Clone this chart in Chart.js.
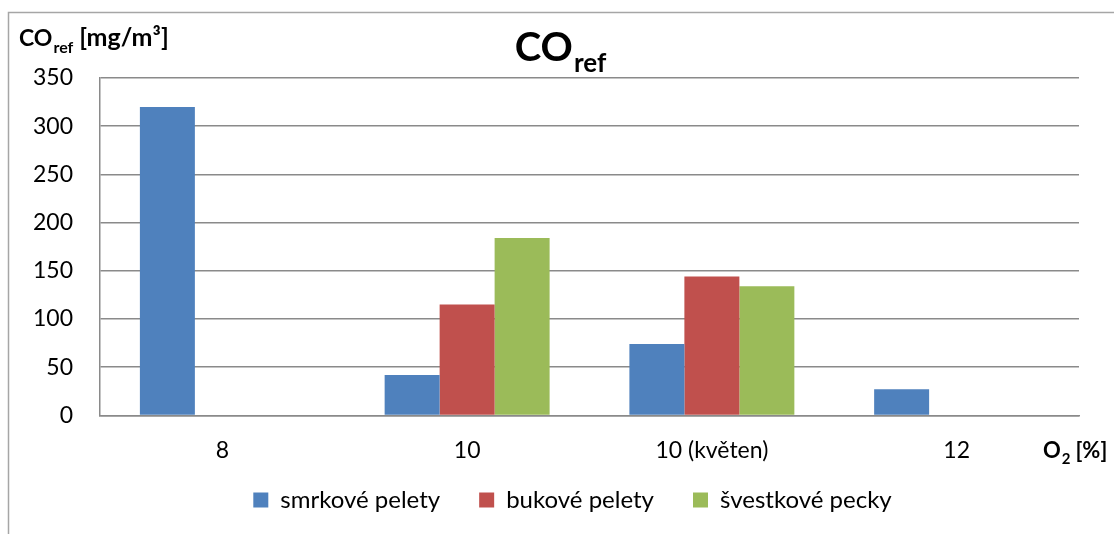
<!DOCTYPE html>
<html>
<head>
<meta charset="utf-8">
<script src="https://cdn.jsdelivr.net/npm/chart.js@4/dist/chart.umd.min.js"></script>
<style>
  html, body { margin: 0; padding: 0; background: #fff; }
  #wrap { width: 1114px; height: 534px; position: relative; }
</style>
</head>
<body>
<div id="wrap"><canvas id="c" width="1114" height="534"></canvas></div>
<script>
const categories = ['8', '10', '10 (květen)', '12'];
const seriesNames = ['smrkové pelety', 'bukové pelety', 'švestkové pecky'];
const smrkove = [320, 42, 74, 27];
const bukove = [null, 115, 144, null];
const svestkove = [null, 184, 134, null];
const yMin = 0, yMax = 350, yStep = 50;
const colors = ['#4F81BD', '#C0504D', '#9BBB59'];

const FONT = 'Lato, "Open Sans", sans-serif';
const GRID = '#8a8a8a';

// legend placement (row centre, centre of the item group)
const LEGEND_ROW_Y = 500;
const LEGEND_CENTER_X = 572.5;

const legendPlacePlugin = {
  id: 'legendPlace',
  afterLayout(chart) {
    const L = chart.legend;
    if (!L) return;
    const pad = L.options.labels.padding;
    const fs = L.options.labels.font.size;
    const h = L.height;
    const top = LEGEND_ROW_Y - pad - fs / 2;
    L.top = top; L.bottom = top + h;
    const dx = LEGEND_CENTER_X - (L.left + L.right) / 2;
    L.left += dx; L.right += dx;
  }
};

const decorPlugin = {
  id: 'decor',
  beforeDraw(chart) {
    const ctx = chart.ctx;
    ctx.save();
    ctx.strokeStyle = '#a6a6a6';
    ctx.lineWidth = 1.5;
    ctx.beginPath();
    ctx.moveTo(8.5, 534);
    ctx.lineTo(8.5, 12.5);
    ctx.lineTo(1114, 12.5);
    ctx.stroke();
    ctx.restore();
  },
  afterDraw(chart) {
    const ctx = chart.ctx;
    ctx.save();
    ctx.fillStyle = '#000';
    ctx.textBaseline = 'alphabetic';
    // Main title: CO_ref
    ctx.font = 'bold 40px ' + FONT;
    const wCO = ctx.measureText('CO').width;
    ctx.font = 'bold 26px ' + FONT;
    const wRef = ctx.measureText('ref').width;
    const cx = 560;
    const x0 = cx - (wCO + wRef) / 2;
    ctx.font = 'bold 40px ' + FONT;
    ctx.fillText('CO', x0, 61);
    ctx.font = 'bold 26px ' + FONT;
    ctx.fillText('ref', x0 + wCO + 1, 72);
    // Y axis title: CO_ref [mg/m³]
    let x = 19;
    ctx.font = 'bold 23px ' + FONT;
    ctx.fillText('CO', x, 46);
    x += ctx.measureText('CO').width;
    ctx.font = 'bold 16px ' + FONT;
    ctx.fillText('ref', x + 1, 53);
    x += ctx.measureText('ref').width + 7;
    ctx.font = 'bold 25px ' + FONT;
    ctx.fillText('[mg/m³]', x, 46);
    // X axis title: O2 [%]
    x = 1043;
    ctx.font = 'bold 22px ' + FONT;
    ctx.fillText('O', x, 458);
    x += ctx.measureText('O').width;
    ctx.font = 'bold 15px ' + FONT;
    ctx.fillText('2', x + 1, 464);
    x += ctx.measureText('2').width + 6;
    ctx.font = 'bold 22px ' + FONT;
    ctx.fillText('[%]', x, 458);
    ctx.restore();
  }
};

new Chart(document.getElementById('c'), {
  type: 'bar',
  data: {
    labels: categories,
    datasets: [
      { label: seriesNames[0], data: smrkove, backgroundColor: colors[0] },
      { label: seriesNames[1], data: bukove, backgroundColor: colors[1] },
      { label: seriesNames[2], data: svestkove, backgroundColor: colors[2] }
    ]
  },
  options: {
    responsive: false,
    animation: false,
    devicePixelRatio: 1,
    layout: { padding: { top: 78, left: 8, right: 35, bottom: -24 } },
    datasets: { bar: { categoryPercentage: 0.674, barPercentage: 1.0 } },
    plugins: {
      title: { display: false },
      tooltip: { enabled: false },
      legend: {
        display: true,
        position: 'bottom',
        labels: {
          boxWidth: 15,
          boxHeight: 15,
          padding: 39,
          color: '#000',
          font: { family: FONT, size: 24 }
        }
      }
    },
    scales: {
      x: {
        grid: { display: false, drawTicks: false },
        border: { display: true, color: GRID, width: 1.5 },
        ticks: { color: '#000', padding: 21, font: { family: FONT, size: 23 }, maxRotation: 0 }
      },
      y: {
        min: yMin,
        max: yMax,
        grid: { color: GRID, lineWidth: 1.5, drawTicks: false },
        border: { display: true, color: GRID, width: 1.5 },
        ticks: { stepSize: yStep, color: '#000', padding: 27, font: { family: FONT, size: 23 } },
        afterFit(scale) { scale.width = 92; }
      }
    }
  },
  plugins: [legendPlacePlugin, decorPlugin]
});
</script>
</body>
</html>
